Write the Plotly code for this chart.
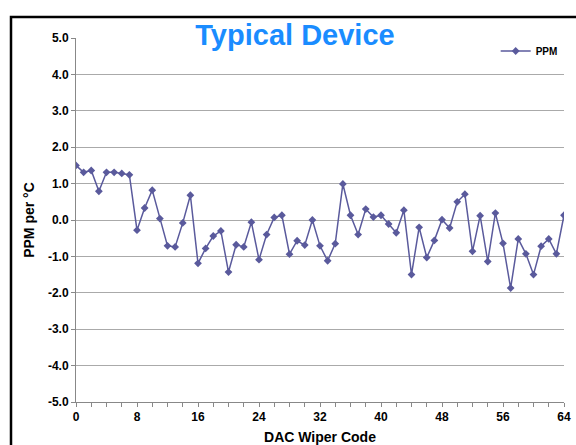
import plotly.graph_objects as go

# DAC wiper code vs temperature coefficient
codes = list(range(65))
ppm = [1.50, 1.31, 1.36, 0.79, 1.31, 1.31, 1.28, 1.24, -0.28, 0.33,
       0.82, 0.04, -0.71, -0.74, -0.08, 0.68, -1.19, -0.78, -0.44, -0.30,
       -1.43, -0.68, -0.74, -0.06, -1.09, -0.40, 0.07, 0.13, -0.94, -0.57,
       -0.69, 0.00, -0.71, -1.12, -0.65, 0.99, 0.13, -0.40, 0.30, 0.08,
       0.13, -0.11, -0.35, 0.27, -1.50, -0.20, -1.03, -0.56, 0.01, -0.22,
       0.50, 0.71, -0.86, 0.12, -1.14, 0.19, -0.64, -1.87, -0.52, -0.93,
       -1.50, -0.72, -0.52, -0.93, 0.13]
x_ticks = [0, 8, 16, 24, 32, 40, 48, 56, 64]
y_ticks = [-5, -4, -3, -2, -1, 0, 1, 2, 3, 4, 5]

fig = go.Figure()
fig.add_trace(go.Scatter(
    x=codes, y=ppm, name="<b>PPM</b>", mode="lines+markers",
    line=dict(color="#5A5A9C", width=1.5),
    marker=dict(symbol="diamond", size=6, color="#5A5A9C"),
))

fig.update_layout(
    width=576, height=445,
    margin=dict(l=76, r=12, t=38, b=43),
    paper_bgcolor="white", plot_bgcolor="white",
    font=dict(family="Liberation Sans, Arial", size=12, color="black"),
    title=dict(text="<b>Typical Device</b>", x=295 / 576, xanchor="center",
               y=1 - 35 / 445, yanchor="middle",
               font=dict(size=29, color="#1A8CFF")),
    showlegend=True,
    legend=dict(x=0.86, y=(402 - 51) / 364, xanchor="left", yanchor="middle",
                bgcolor="rgba(0,0,0,0)", font=dict(size=10),
                itemwidth=30),
    xaxis=dict(range=[0, 64], tickvals=x_ticks,
               ticktext=[f"<b>{v}</b>" for v in x_ticks],
               showgrid=False, zeroline=False, showline=True,
               linecolor="#888888", linewidth=1, automargin=False,
               ticks="outside", ticklen=4, tickcolor="#888888",
               minor=dict(dtick=2, tick0=0, ticks="outside", ticklen=4,
                          tickcolor="#888888"),
               title=dict(text="<b>DAC Wiper Code</b>", font=dict(size=14),
                          standoff=17)),
    yaxis=dict(range=[-5, 5], tickvals=y_ticks,
               ticktext=[f"<b>{v:.1f}</b>" for v in y_ticks],
               showgrid=True, gridcolor="#AAAAAA", gridwidth=1,
               zeroline=False, showline=True,
               linecolor="#888888", linewidth=1, automargin=False,
               ticks="outside", ticklen=4, tickcolor="#888888",
               title=dict(text="<b>PPM per °C</b>", font=dict(size=14),
                          standoff=10)),
)

# outer chart frame (runs past the right and bottom edges of the picture)
fig.add_shape(type="rect", xref="paper", yref="paper",
              x0=(11 - 76) / 488, x1=(590 - 76) / 488,
              y0=(402 - 460) / 364, y1=(402 - 17) / 364,
              line=dict(color="black", width=2.5), layer="above")

# drop the default body margin so the chart sits at the window origin
fig.write_html("out.html", config={"displayModeBar": False},
               post_script="document.body.style.margin='0';")
